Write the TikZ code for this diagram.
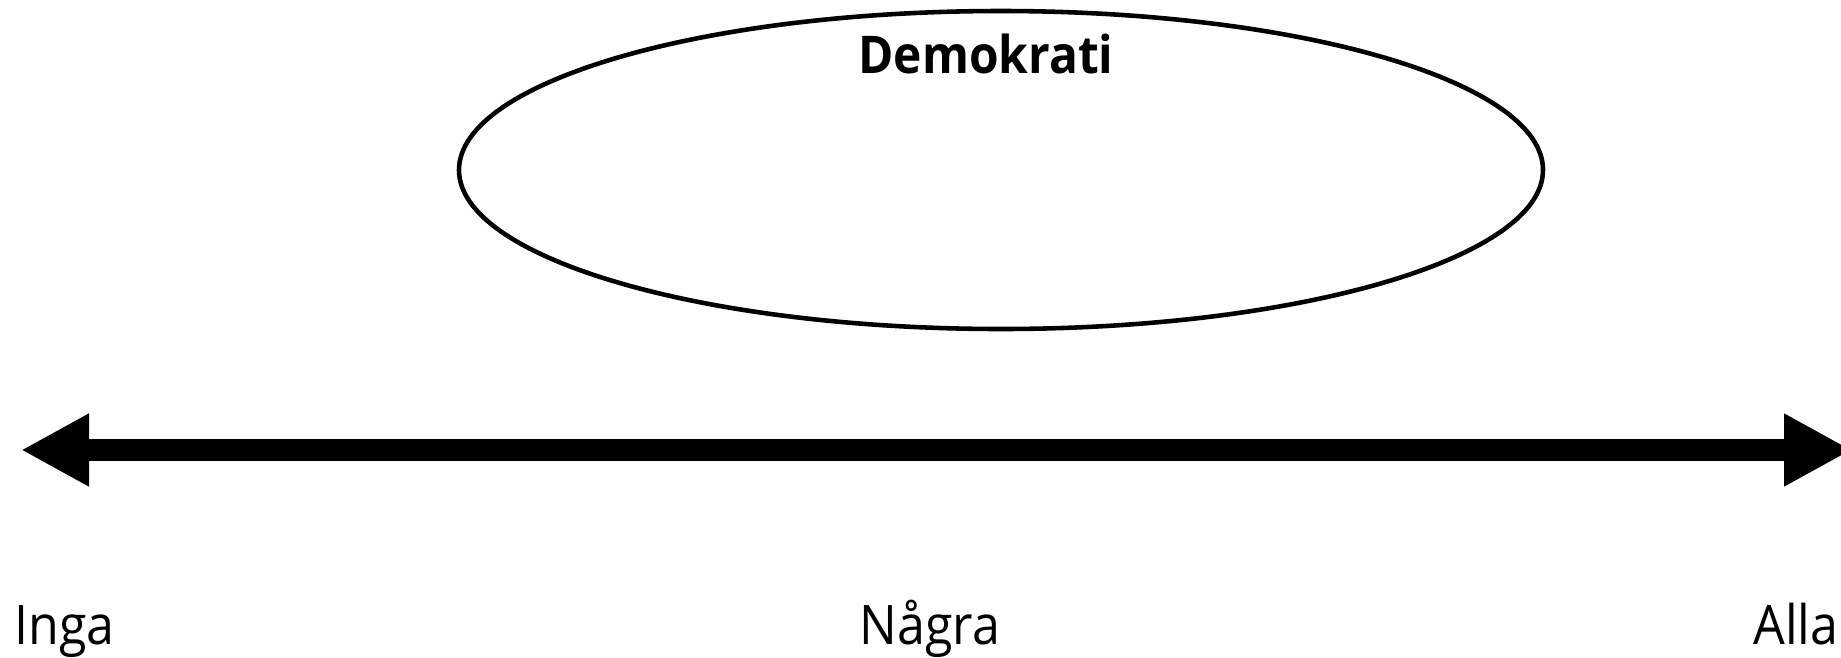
\documentclass[tikz,border=0pt]{standalone}
\usepackage{fontspec}
\setmainfont[FakeStretch=0.92]{Open Sans}
\usetikzlibrary{shapes.geometric,arrows.meta}

\begin{document}
\begin{tikzpicture}
\useasboundingbox (0,0) rectangle (18.41,6.57);
\node[draw,ellipse,line width=1.3pt,minimum width=10.84cm,minimum height=3.18cm] (demo) at (10.01,4.87) {};
\node[anchor=base,inner sep=0pt,font=\fontsize{14.8}{18}\selectfont\bfseries] (demolabel) at (9.86,5.84) {Demokrati};
\coordinate (left) at (0.21,2.07);
\coordinate (right) at (18.52,2.07);
\draw[line width=6pt,{Triangle[length=6.8mm,width=6.8mm]}-{Triangle[length=6.8mm,width=6.8mm]}] (left) -- (right);
\node[anchor=base west,inner sep=0pt,font=\fontsize{15.5}{18}\selectfont] (inga) at (0.14,0.13) {Inga};
\node[anchor=base,inner sep=0pt,font=\fontsize{15.5}{18}\selectfont] (nagra) at (9.30,0.13) {Några};
\node[anchor=base east,inner sep=0pt,font=\fontsize{15.5}{18}\selectfont] (alla) at (18.39,0.13) {Alla};
\end{tikzpicture}
\end{document}
